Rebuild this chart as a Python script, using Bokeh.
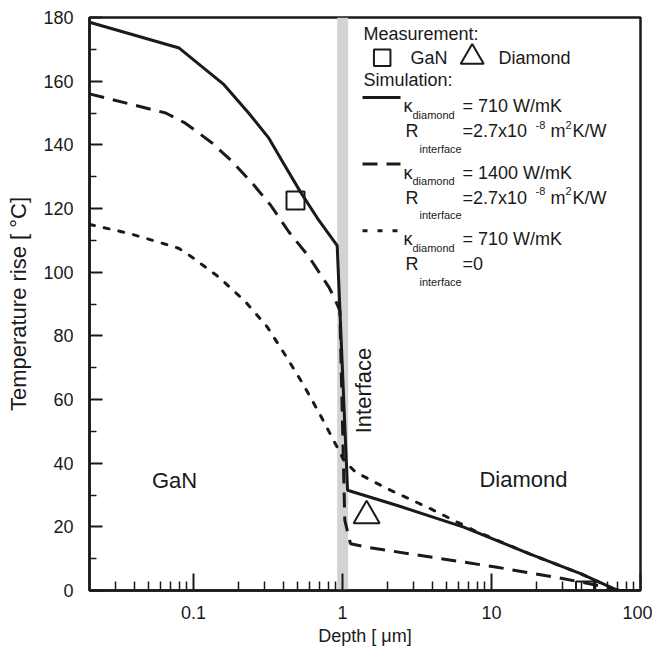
import math
from bokeh.plotting import figure
from bokeh.models import Label, FixedTicker
from bokeh.embed import file_html
from bokeh.resources import INLINE

# ---------------- data ----------------
# Simulation: kappa_diamond = 710 W/mK, R_interface = 2.7e-8 m2K/W (solid)
sim_710_x = [0.02, 0.08, 0.16, 0.234, 0.32, 0.40, 0.52, 0.69, 0.92, 1.08, 2.33, 6.5, 18.0, 40.0, 66.0, 72.0, 100.0]
sim_710_y = [178.5, 170.4, 158.9, 150.0, 142.1, 134.3, 125.3, 116.4, 108.3, 31.5, 26.7, 19.9, 11.5, 5.2, 0.6, 0.0, 0.0]
# Simulation: kappa_diamond = 1400 W/mK, R_interface = 2.7e-8 m2K/W (dashed)
sim_1400_x = [0.02, 0.065, 0.088, 0.133, 0.181, 0.247, 0.328, 0.435, 0.593, 0.807, 0.873, 0.958, 1.035, 1.13, 1.46, 3.9, 10.9, 30.5, 59.6, 70.0, 100.0]
sim_1400_y = [156.0, 150.0, 146.8, 140.6, 134.8, 128.0, 121.1, 112.7, 104.9, 95.4, 92.3, 88.0, 22.0, 14.7, 13.6, 10.5, 7.3, 3.7, 1.0, 0.0, 0.0]
# Simulation: kappa_diamond = 710 W/mK, R_interface = 0 (dotted)
sim_r0_x = [0.02, 0.0367, 0.0615, 0.0794, 0.0977, 0.148, 0.223, 0.312, 0.413, 0.548, 0.709, 0.918, 1.02, 1.22, 1.99, 3.89, 7.59, 18.0, 40.0, 70.0, 100.0]
sim_r0_y = [115.0, 112.2, 109.1, 107.5, 104.7, 98.4, 90.7, 82.8, 73.9, 64.5, 55.1, 45.1, 40.9, 37.2, 32.0, 25.7, 18.9, 11.5, 5.2, 0.0, 0.0]
# Measurements
meas_gan_x = [0.483, 42.4]
meas_gan_y = [122.5, 0.0]
meas_dia_x = [1.45]
meas_dia_y = [23.5]
# Interface band (depth range)
interface_lo = [0.92]
interface_hi = [1.09]
# Axes
x_range = (0.02, 100)
y_range = (0, 180)
x_ticks = [0.1, 1, 10, 100]
x_tick_labels = ["0.1", "1", "10", "100"]
y_ticks = [0, 20, 40, 60, 80, 100, 120, 140, 160, 180]
y_minor = [10, 30, 50, 70, 90, 110, 130, 150, 170]

FONT = "Liberation Sans"
INK = "#1a1a1a"

# ---------------- layout ----------------
W, H = 652, 647
FL, FT, FW, FH = 89, 17, 551, 573  # frame position in page pixels

p = figure(width=W, height=H, x_axis_type="log",
           x_range=x_range, y_range=y_range,
           output_backend="svg", toolbar_location=None,
           min_border_left=FL, min_border_top=FT,
           min_border_right=W - FL - FW,
           min_border_bottom=H - FT - FH)
p.frame_width = FW
p.frame_height = FH
p.background_fill_color = "white"
p.border_fill_color = "white"
p.xgrid.visible = False
p.ygrid.visible = False
p.outline_line_color = INK
p.outline_line_width = 2.5
p.outline_line_alpha = 1.0


def fx(px):
    lo, hi = math.log10(x_range[0]), math.log10(x_range[1])
    return 10 ** (lo + (px - FL) / FW * (hi - lo))


def fy(py):
    return y_range[0] + (FT + FH - py) / FH * (y_range[1] - y_range[0])


# interface band
p.quad(left=interface_lo, right=interface_hi, bottom=[y_range[0]], top=[y_range[1]],
       fill_color="#d2d3d5", line_color=None)

# simulation curves
p.line(sim_r0_x, sim_r0_y, line_color=INK, line_width=3, line_dash="5 10", line_cap="round")
p.line(sim_1400_x, sim_1400_y, line_color=INK, line_width=3, line_dash="15 9")
p.line(sim_710_x, sim_710_y, line_color=INK, line_width=3)

# measurements
p.scatter(meas_gan_x, meas_gan_y, marker="square", size=18, fill_color=None,
          line_color=INK, line_width=2)
p.scatter(meas_dia_x, meas_dia_y, marker="triangle", size=26, fill_color=None,
          line_color=INK, line_width=2)

# axes
for ax in (p.xaxis, p.yaxis):
    ax.axis_line_width = 2.5
    ax.axis_line_color = INK
    ax.major_tick_line_color = INK
    ax.minor_tick_line_color = INK
    ax.major_tick_line_width = 2
    ax.minor_tick_line_width = 1.5
    ax.major_tick_out = 0
    ax.minor_tick_out = 0
    ax.major_label_text_font = FONT
    ax.major_label_text_font_size = "18px"
    ax.major_label_text_color = INK
    ax.axis_label_text_font = FONT
    ax.axis_label_text_font_style = "normal"
    ax.axis_label_text_color = INK

x_minor = [m * 10 ** e for e in (-2, -1, 0, 1) for m in range(2, 10)]
x_minor = [v for v in x_minor if x_range[0] * 1.05 < v < x_range[1]]
p.xaxis.ticker = FixedTicker(ticks=x_ticks, minor_ticks=x_minor)
p.xaxis.major_label_overrides = {t: l for t, l in zip(x_ticks, x_tick_labels)}
p.xaxis.major_tick_in = 17
p.xaxis.minor_tick_in = 9
p.xaxis.major_label_standoff = 15
p.xaxis.axis_label = "Depth [ μm]"
p.xaxis.axis_label_text_font_size = "18px"
p.xaxis.axis_label_standoff = 4

p.yaxis.ticker = FixedTicker(ticks=y_ticks, minor_ticks=y_minor)
p.yaxis.major_tick_in = 13
p.yaxis.minor_tick_in = 7
p.yaxis.major_label_standoff = 16
p.yaxis.axis_label = "Temperature rise [ °C]"
p.yaxis.axis_label_text_font_size = "22px"
p.yaxis.axis_label_standoff = 9


def lab(px, py, text, size=18, align="left", angle=0.0, baseline=True):
    """Place a text; py is the baseline (converted to a middle anchor) unless baseline=False."""
    cy = py - 0.35 * size if baseline else py
    p.add_layout(Label(x=fx(px), y=fy(cy), text=text, text_font=FONT,
                       text_font_size=f"{size}px", text_align=align, text_baseline="middle",
                       text_color=INK, angle=angle))


# region annotations
lab(174, 480, "GaN", 22, "center", baseline=False)
lab(523, 479, "Diamond", 22, "center", baseline=False)
lab(363, 390, "Interface", 22, "center", math.pi / 2, baseline=False)

# legend
lab(363, 39.5, "Measurement:")
p.scatter([fx(381.7)], [fy(57.2)], marker="square", size=16.5, fill_color=None,
          line_color=INK, line_width=2)
lab(410, 64, "GaN")
p.scatter([fx(471.7)], [fy(56.7)], marker="triangle", size=23, fill_color=None,
          line_color=INK, line_width=2)
lab(498, 64, "Diamond")
lab(363, 86, "Simulation:")

groups = [
    ("", "= 710 W/mK", ["=2.7x10", "-8", "m", "2", "K/W"]),
    ("15 9", "= 1400 W/mK", ["=2.7x10", "-8", "m", "2", "K/W"]),
    ("5 10", "= 710 W/mK", ["=0"]),
]
for i, (dash, ktext, rparts) in enumerate(groups):
    off = i * 66.6
    ly = fy(97 + off)
    kw = dict(line_color=INK, line_width=3)
    if dash:
        kw["line_dash"] = dash
    p.line([fx(362), fx(400)], [ly, ly], **kw)
    lab(403, 112 + off, "κ")
    lab(412, 118 + off, "diamond", 11)
    lab(462, 112 + off, ktext)
    lab(405, 137 + off, "R")
    lab(419, 152 + off, "interface", 11)
    if len(rparts) == 1:
        lab(462, 137 + off, rparts[0])
    else:
        lab(462, 137 + off, rparts[0])
        lab(535, 128 + off, rparts[1], 11)
        lab(550, 137 + off, rparts[2])
        lab(565, 128 + off, rparts[3], 11)
        lab(572, 137 + off, rparts[4])

open("out.html", "w").write(file_html(p, INLINE))
